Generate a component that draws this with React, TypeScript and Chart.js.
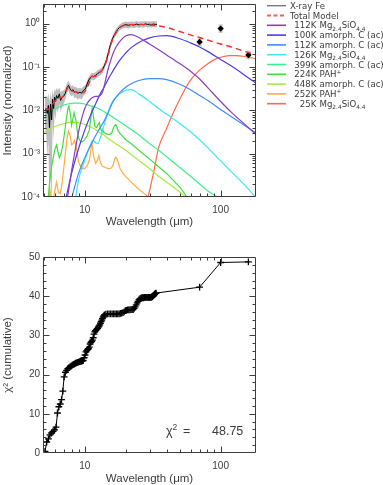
import React, { useEffect, useRef } from 'react';
import { Chart, registerables } from 'chart.js';

Chart.register(...registerables);

const FONT = "'Liberation Sans', Arial, Helvetica, sans-serif";
const LEGEND_FONT = "'DejaVu Sans', 'Liberation Sans', sans-serif";
const TEXT = '#3c3c3c';

// ================= axes / ticks =================
const X_MIN = 4.93;
const X_MAX = 182;
const xMajorTicks = [10, 100];
const xTickLabels = ['10', '100'];
const xMinorTicks = [5, 6, 7, 8, 9, 20, 30, 40, 50, 60, 70, 80, 90];

const TOP_Y_MIN = 1e-4;
const TOP_Y_MAX = 2.85;
const topYMajor = [1e-4, 1e-3, 1e-2, 1e-1, 1];
const topYLabels = ['10⁻⁴', '10⁻³', '10⁻²', '10⁻¹', '10⁰'];
const topYMinor = [
  2e-4, 3e-4, 4e-4, 5e-4, 6e-4, 7e-4, 8e-4, 9e-4,
  2e-3, 3e-3, 4e-3, 5e-3, 6e-3, 7e-3, 8e-3, 9e-3,
  0.02, 0.03, 0.04, 0.05, 0.06, 0.07, 0.08, 0.09,
  0.2, 0.3, 0.4, 0.5, 0.6, 0.7, 0.8, 0.9, 2,
];

const BOT_Y_MIN = 0;
const BOT_Y_MAX = 50;
const botYMajor = [0, 10, 20, 30, 40, 50];
const botYLabels = ['0', '10', '20', '30', '40', '50'];
const botYMinor = [2, 4, 6, 8, 12, 14, 16, 18, 22, 24, 26, 28, 32, 34, 36, 38, 42, 44, 46, 48];

// ================= spectrum (X-ray Fe) =================
const specLam = [5.1, 5.2, 5.3, 5.4, 5.5, 5.6, 5.7, 5.8, 5.9, 6.0,
  6.1, 6.2, 6.35, 6.5, 6.65, 6.8, 7.0, 7.2, 7.4, 7.6,
  7.8, 8.0, 8.2, 8.4, 8.6, 8.9, 9.2, 9.5, 9.8, 10.1,
  10.4, 10.7, 11.0, 11.3, 11.6, 12.0, 12.4, 12.8, 13.2, 13.6,
  14.0, 14.5, 15.0, 15.5, 16.0, 16.5, 17.0, 17.5, 18.0, 19,
  20, 21, 22, 23, 24, 25, 26, 27, 28, 29,
  30, 31, 32, 33, 34];
const specVal = [0.0095, 0.011, 0.0085, 0.013, 0.004, 0.014, 0.006, 0.018, 0.011, 0.02,
  0.016, 0.022, 0.019, 0.024, 0.017, 0.02, 0.021, 0.025, 0.033, 0.038,
  0.031, 0.028, 0.03, 0.026, 0.027, 0.025, 0.026, 0.025, 0.029, 0.031,
  0.04, 0.05, 0.056, 0.062, 0.06, 0.064, 0.07, 0.075, 0.08, 0.09,
  0.11, 0.15, 0.23, 0.34, 0.45, 0.55, 0.65, 0.74, 0.82, 0.9,
  0.95, 0.92, 0.96, 0.93, 0.98, 0.94, 0.97, 0.95, 0.99, 0.96,
  0.97, 0.95, 0.98, 0.96, 0.97];
const specHi = [0.02, 0.022, 0.019, 0.025, 0.016, 0.026, 0.018, 0.03, 0.022, 0.032,
  0.027, 0.033, 0.029, 0.034, 0.026, 0.028, 0.029, 0.033, 0.042, 0.048,
  0.04, 0.036, 0.038, 0.034, 0.035, 0.032, 0.033, 0.032, 0.036, 0.038,
  0.048, 0.06, 0.067, 0.074, 0.072, 0.076, 0.083, 0.089, 0.095, 0.106,
  0.128, 0.175, 0.27, 0.4, 0.52, 0.64, 0.76, 0.86, 0.96, 1.06,
  1.12, 1.09, 1.13, 1.1, 1.15, 1.11, 1.14, 1.12, 1.16, 1.13,
  1.14, 1.12, 1.15, 1.13, 1.14];
const specLo = [0.004, 0.003, 0.0008, 0.002, 0.00005, 0.0005, 0.00005, 0.006, 0.002, 0.009,
  0.006, 0.011, 0.009, 0.014, 0.009, 0.012, 0.014, 0.018, 0.025, 0.029,
  0.023, 0.021, 0.023, 0.019, 0.02, 0.018, 0.019, 0.018, 0.022, 0.024,
  0.032, 0.04, 0.046, 0.051, 0.049, 0.053, 0.058, 0.062, 0.066, 0.074,
  0.092, 0.126, 0.19, 0.28, 0.38, 0.46, 0.55, 0.63, 0.7, 0.77,
  0.81, 0.78, 0.82, 0.79, 0.84, 0.8, 0.83, 0.81, 0.85, 0.82,
  0.83, 0.81, 0.84, 0.82, 0.83];

// ================= total model =================
const modelLam = [5.1, 5.3, 5.5, 5.8, 6.0, 6.2, 6.5, 6.8, 7.0, 7.3,
  7.6, 7.9, 8.3, 8.6, 9.0, 9.5, 10.0, 10.5, 11.0, 11.3,
  11.7, 12.2, 12.7, 13.2, 13.7, 14.2, 14.7, 15.2, 15.7, 16.2,
  16.8, 17.5, 18.5, 20, 22, 25, 28, 31, 34, 40,
  50, 60, 70, 80, 100, 120, 150, 182];
const modelVal = [0.0098, 0.0105, 0.011, 0.014, 0.016, 0.018, 0.019, 0.02, 0.022, 0.028,
  0.035, 0.03, 0.027, 0.027, 0.025, 0.025, 0.027, 0.036, 0.05, 0.061,
  0.06, 0.063, 0.072, 0.08, 0.095, 0.12, 0.16, 0.25, 0.36, 0.46,
  0.58, 0.72, 0.85, 0.92, 0.95, 0.95, 0.95, 0.93, 0.9, 0.82,
  0.66, 0.55, 0.48, 0.42, 0.34, 0.29, 0.23, 0.19];

// ================= photometry =================
const photLam = [70, 100, 160];
const photVal = [0.38, 0.77, 0.19];
const photLo = [0.3, 0.61, 0.15];
const photHi = [0.48, 0.97, 0.24];

// ================= model components =================
// 112K Mg2.4SiO4.4
const c1Lam = [7.4, 8, 8.5, 9, 9.5, 10, 10.5, 11, 11.5, 12, 12.5, 13, 13.5, 14, 14.5, 15, 15.5, 16, 17, 18, 19, 20, 21, 22, 23, 25, 30, 35, 40, 50, 60, 70, 80, 100, 120, 150, 182];
const c1Val = [8e-5, 4e-4, 1.2e-3, 3.2e-3, 6.5e-3, 0.011, 0.015, 0.018, 0.02, 0.021, 0.021, 0.022, 0.026, 0.04, 0.065, 0.1, 0.14, 0.19, 0.29, 0.38, 0.46, 0.52, 0.55, 0.56, 0.54, 0.48, 0.34, 0.25, 0.19, 0.12, 0.08, 0.053, 0.034, 0.016, 0.009, 0.0048, 0.0028];
// 100K amorph. C (ac)
const c2Lam = [7.2, 8, 9, 10, 11, 12, 13, 14, 15, 16, 18, 20, 22, 25, 30, 35, 40, 50, 60, 70, 80, 100, 120, 150, 182];
const c2Val = [8e-5, 3.5e-4, 1.3e-3, 3.5e-3, 7.5e-3, 0.014, 0.024, 0.036, 0.055, 0.078, 0.14, 0.21, 0.28, 0.37, 0.47, 0.52, 0.53, 0.45, 0.36, 0.29, 0.23, 0.15, 0.105, 0.065, 0.042];
// 112K amorph. C (ac)
const c3Lam = [7.9, 9, 10, 11, 12, 13, 14, 15, 16, 18, 20, 22, 25, 30, 35, 40, 50, 60, 70, 80, 100, 120, 150, 182];
const c3Val = [8e-5, 3.5e-4, 8e-4, 1.5e-3, 2.6e-3, 4e-3, 6e-3, 0.0095, 0.015, 0.025, 0.034, 0.041, 0.049, 0.054, 0.054, 0.051, 0.04, 0.03, 0.022, 0.017, 0.0105, 0.0071, 0.0045, 0.003];
// 126K Mg2.4SiO4.4
const c4Lam = [8.5, 9, 10, 11, 11.5, 12, 12.5, 13, 14, 15, 16, 18, 20, 22, 25, 30, 35, 40, 50, 60, 70, 80, 100, 120, 150, 185];
const c4Val = [8e-5, 2.5e-4, 7e-4, 1.6e-3, 2.0e-3, 1.8e-3, 1.7e-3, 2.3e-3, 5e-3, 0.0098, 0.016, 0.024, 0.029, 0.03, 0.024, 0.016, 0.011, 0.0082, 0.005, 0.0032, 0.0021, 0.0014, 6.8e-4, 3.8e-4, 1.9e-4, 9e-5];
// 399K amorph. C (ac)
const c5Lam = [4.93, 5, 5.5, 6, 6.5, 7, 7.5, 8, 8.5, 9, 10, 11, 12, 13, 14, 16, 18, 20, 25, 30, 35, 40, 50, 60, 70, 80, 90, 100];
const c5Val = [0.0062, 0.0065, 0.0085, 0.0105, 0.012, 0.0132, 0.014, 0.0145, 0.0147, 0.0147, 0.014, 0.0128, 0.0118, 0.0105, 0.0092, 0.007, 0.0055, 0.0044, 0.0027, 0.0017, 0.0012, 8.5e-4, 4.8e-4, 3e-4, 2e-4, 1.4e-4, 1.1e-4, 9e-5];
// 224K PAH+
const c6Lam = [5.3, 5.5, 5.7, 5.9, 6.05, 6.2, 6.35, 6.5, 6.7, 6.9, 7.1, 7.3, 7.5, 7.65, 7.85, 8.0, 8.15, 8.35, 8.6, 8.8, 9.0, 9.3, 9.6, 10.0, 10.4, 10.8, 11.0, 11.2, 11.35, 11.6, 11.9, 12.2, 12.6, 12.8, 13.1, 13.4, 13.6, 13.9, 14.3, 14.8, 15.3, 15.8, 16.2, 16.5, 16.9, 17.2, 17.5, 18.0, 19, 20, 22, 25, 30, 35, 40, 50, 58];
const c6Val = [5e-5, 2e-4, 5e-4, 9e-4, 1.3e-3, 1.6e-3, 1.1e-3, 8e-4, 1.0e-3, 1.6e-3, 3e-3, 6e-3, 0.0105, 0.0125, 0.008, 0.0045, 0.006, 0.0088, 0.006, 0.0035, 0.0023, 0.0019, 0.0019, 0.0021, 0.0026, 0.0035, 0.0055, 0.009, 0.0112, 0.007, 0.0042, 0.004, 0.0048, 0.0052, 0.0038, 0.0032, 0.0035, 0.0031, 0.0029, 0.0028, 0.0028, 0.003, 0.0038, 0.0044, 0.0047, 0.0042, 0.0035, 0.003, 0.0025, 0.0021, 0.0017, 0.0012, 7.5e-4, 5e-4, 3.5e-4, 1.7e-4, 9e-5];
// 448K amorph. C (ac)
const c7Lam = [4.93, 5, 5.5, 6, 6.5, 7, 7.5, 8, 8.5, 9, 10, 11, 12, 13, 14, 15, 16, 18, 20, 22, 25, 30, 35, 40, 50, 58];
const c7Val = [0.003, 0.0031, 0.0036, 0.0042, 0.0046, 0.0049, 0.0052, 0.0053, 0.0053, 0.0052, 0.0047, 0.0042, 0.0036, 0.003, 0.0026, 0.0022, 0.0019, 0.0015, 0.0012, 9.5e-4, 7e-4, 4.5e-4, 3e-4, 2.2e-4, 1.3e-4, 9e-5];
// 252K PAH+
const c8Lam = [5.4, 5.55, 5.7, 5.85, 6.0, 6.2, 6.4, 6.6, 6.8, 7.0, 7.2, 7.4, 7.6, 7.8, 8.0, 8.2, 8.4, 8.7, 9.0, 9.5, 10.0, 10.5, 10.9, 11.1, 11.3, 11.6, 12.0, 12.4, 12.7, 13.0, 13.4, 13.8, 14.4, 15.0, 15.6, 16.2, 16.6, 16.9, 17.3, 17.7, 18.2, 19, 20, 22, 25, 29.5];
const c8Val = [5e-5, 1.5e-4, 8e-5, 9e-5, 1.3e-4, 2.2e-4, 1.3e-4, 1.2e-4, 2e-4, 4.5e-4, 1e-3, 2.2e-3, 3.3e-3, 2.6e-3, 1.6e-3, 1.7e-3, 2.0e-3, 1.3e-3, 6.5e-4, 4.5e-4, 4.5e-4, 5.5e-4, 8e-4, 1.3e-3, 1.8e-3, 9e-4, 6e-4, 7e-4, 9e-4, 6.5e-4, 5.2e-4, 5e-4, 4.7e-4, 4.5e-4, 4.6e-4, 5.5e-4, 7.5e-4, 8.3e-4, 7.5e-4, 6e-4, 4.5e-4, 3.6e-4, 3e-4, 2.2e-4, 1.5e-4, 1e-4];
// 25K Mg2.4SiO4.4
const c9Lam = [29.3, 32, 35, 40, 45, 50, 55, 60, 70, 80, 90, 100, 115, 130, 150, 182];
const c9Val = [1e-4, 3.5e-4, 1.4e-3, 3.8e-3, 9e-3, 0.018, 0.032, 0.05, 0.085, 0.118, 0.148, 0.168, 0.183, 0.183, 0.175, 0.155];

const compTemps = ['112K', '100K', '112K', '126K', '399K', '224K', '448K', '252K', '25K'];
const compNames = ['Mg_{2.4}SiO_{4.4}', 'amorph. C (ac)', 'amorph. C (ac)', 'Mg_{2.4}SiO_{4.4}', 'amorph. C (ac)', 'PAH^{+}', 'amorph. C (ac)', 'PAH^{+}', 'Mg_{2.4}SiO_{4.4}'];
const compColors = ['#8a3fc0', '#4a3cf0', '#3f8cff', '#3ce8f4', '#3cf08c', '#3ee03e', '#a6ec3a', '#ffac40', '#ff6a4a'];
const compSmooth = [true, true, true, true, true, false, true, false, true];
const compLams = [c1Lam, c2Lam, c3Lam, c4Lam, c5Lam, c6Lam, c7Lam, c8Lam, c9Lam];
const compVals = [c1Val, c2Val, c3Val, c4Val, c5Val, c6Val, c7Val, c8Val, c9Val];

// ================= cumulative chi^2 =================
const chiLam = [5.10, 5.25, 5.40, 5.55, 5.70, 5.85, 6.00, 6.15, 6.30, 6.45,
  6.60, 6.75, 6.90, 7.05, 7.20, 7.35, 7.50, 7.65, 7.80, 7.95,
  8.10, 8.25, 8.40, 8.55, 8.70, 8.85, 9.00, 9.15, 9.30, 9.45,
  9.60, 9.75, 9.90, 10.05, 10.20, 10.35, 10.50, 10.65, 10.80, 10.95,
  11.10, 11.25, 11.40, 11.55, 11.70, 11.85, 12.00, 12.15, 12.30, 12.45,
  12.60, 12.75, 12.90, 13.05, 13.20, 13.35, 13.50, 13.65, 13.80, 13.95,
  14.3, 14.7, 15.1, 15.5, 15.9, 16.3, 16.7, 17.1, 17.5, 17.9,
  18.3, 18.7, 19.1, 19.5, 19.9, 20.3, 20.7, 21.1, 21.5, 21.9,
  22.3, 22.7, 23.1, 23.5, 23.9, 24.3, 24.7, 25.1, 25.5, 25.9,
  26.3, 26.7, 27.1, 27.5, 27.9, 28.3, 28.7, 29.1, 29.5, 29.9,
  30.3, 30.7, 31.1, 31.5, 31.9, 32.3, 32.7, 33.1, 33.5,
  70, 100, 160];
const chiVal = [0.4, 2.8, 3.6, 4.6, 5.1, 5.5, 5.9, 6.6, 10.2, 11.8,
  12.5, 13.6, 15.8, 19.4, 20.6, 21.1, 21.5, 21.8, 22.0, 22.2,
  22.4, 22.6, 22.7, 22.9, 23.0, 23.1, 23.2, 23.3, 23.4, 23.4,
  23.5, 23.6, 24.3, 25.0, 25.8, 26.1, 26.4, 26.6, 27.0, 27.8,
  28.2, 28.5, 28.8, 29.4, 30.3, 30.9, 31.2, 31.4, 31.6, 31.8,
  32.1, 32.4, 32.7, 33.1, 33.5, 33.9, 34.3, 34.7, 35.0, 35.2,
  35.4, 35.5, 35.5, 35.5, 35.5, 35.5, 35.5, 35.5, 35.5, 35.5,
  35.6, 35.7, 35.8, 36.0, 36.3, 36.4, 36.5, 36.5, 36.5, 36.6,
  36.6, 36.6, 36.9, 37.3, 37.8, 38.3, 38.7, 39.1, 39.4, 39.5,
  39.6, 39.6, 39.6, 39.7, 39.7, 39.7, 39.7, 39.7, 39.7, 39.7,
  39.7, 39.7, 39.8, 39.9, 40.1, 40.3, 40.5, 40.7, 40.8,
  42.3, 48.6, 48.75];

// ================= helpers =================
const pts = (xs: number[], ys: number[]) => xs.map((x, i) => ({ x, y: ys[i] }));

function drawRich(ctx: CanvasRenderingContext2D, text: string, x: number, y: number, size: number, family: string) {
  const parts: { t: string; k: number }[] = [];
  const re = /([_^])\{([^}]*)\}/g;
  let last = 0;
  let m: RegExpExecArray | null;
  while ((m = re.exec(text))) {
    if (m.index > last) parts.push({ t: text.slice(last, m.index), k: 0 });
    parts.push({ t: m[2], k: m[1] === '_' ? -1 : 1 });
    last = re.lastIndex;
  }
  if (last < text.length) parts.push({ t: text.slice(last), k: 0 });
  let cx = x;
  ctx.textAlign = 'left';
  for (const p of parts) {
    const s = p.k ? size * 0.68 : size;
    ctx.font = `${s}px ${family}`;
    const dy = p.k === -1 ? size * 0.3 : p.k === 1 ? -size * 0.42 : 0;
    ctx.fillText(p.t, cx, y + dy);
    cx += ctx.measureText(p.t).width;
  }
  return cx;
}

function makeFramePlugin(xMaj: number[], xMin: number[], yMaj: number[], yMin: number[]) {
  return {
    id: 'frameTicks',
    afterDatasetsDraw(chart: any) {
      const { ctx, chartArea: a } = chart;
      const xs = chart.scales.x;
      const ys = chart.scales.y;
      const L = Math.round(a.left) + 0.5;
      const R = Math.round(a.right) - 0.5;
      const T = Math.round(a.top) + 0.5;
      const B = Math.round(a.bottom) - 0.5;
      ctx.save();
      ctx.strokeStyle = '#3c3c3c';
      ctx.lineWidth = 1;
      ctx.setLineDash([]);
      ctx.beginPath();
      ctx.rect(L, T, R - L, B - T);
      const xt = (vals: number[], len: number) => vals.forEach((v) => {
        const p = Math.round(xs.getPixelForValue(v)) + 0.5;
        if (p <= L || p >= R) return;
        ctx.moveTo(p, B); ctx.lineTo(p, B - len);
        ctx.moveTo(p, T); ctx.lineTo(p, T + len);
      });
      const yt = (vals: number[], len: number) => vals.forEach((v) => {
        const p = Math.round(ys.getPixelForValue(v)) + 0.5;
        if (p <= T || p >= B) return;
        ctx.moveTo(L, p); ctx.lineTo(L + len, p);
        ctx.moveTo(R, p); ctx.lineTo(R - len, p);
      });
      xt(xMaj, 6); xt(xMin, 3); yt(yMaj, 6); yt(yMin, 3);
      ctx.stroke();
      ctx.restore();
    },
  };
}

const legendPlugin = {
  id: 'sideLegend',
  afterDraw(chart: any) {
    const ctx: CanvasRenderingContext2D = chart.ctx;
    const items = chart.data.datasets.filter((d: any) => d.legendText);
    ctx.save();
    items.forEach((d: any, i: number) => {
      const yc = 5.7 + i * 9.8;
      ctx.beginPath();
      ctx.strokeStyle = d.legendColor || d.borderColor;
      ctx.lineWidth = d.legendWidth || 1.6;
      ctx.setLineDash(d.legendDash || []);
      ctx.moveTo(267, yc);
      ctx.lineTo(286, yc);
      ctx.stroke();
      ctx.setLineDash([]);
      ctx.fillStyle = TEXT;
      ctx.textBaseline = 'alphabetic';
      const base = yc + 3.1;
      if (d.legendTemp) {
        ctx.font = `8.6px ${LEGEND_FONT}`;
        ctx.textAlign = 'right';
        ctx.fillText(d.legendTemp, 316.4, base);
        drawRich(ctx, d.legendText, 319.5, base, 8.6, LEGEND_FONT);
      } else {
        drawRich(ctx, d.legendText, 290, base, 8.6, LEGEND_FONT);
      }
    });
    ctx.restore();
  },
};

const photErrPlugin = {
  id: 'photErr',
  beforeDatasetsDraw(chart: any) {
    const { ctx } = chart;
    const xs = chart.scales.x;
    const ys = chart.scales.y;
    ctx.save();
    ctx.strokeStyle = '#cacaca';
    ctx.lineWidth = 4;
    photLam.forEach((l, i) => {
      const px = xs.getPixelForValue(l);
      ctx.beginPath();
      ctx.moveTo(px, ys.getPixelForValue(photLo[i]));
      ctx.lineTo(px, ys.getPixelForValue(photHi[i]));
      ctx.stroke();
    });
    ctx.restore();
  },
};

const chiTextPlugin = {
  id: 'chiText',
  afterDraw(chart: any) {
    const ctx: CanvasRenderingContext2D = chart.ctx;
    ctx.save();
    ctx.fillStyle = TEXT;
    ctx.textBaseline = 'alphabetic';
    drawRich(ctx, 'χ^{2}', 166, 195, 12.5, FONT);
    ctx.font = `12.5px ${FONT}`;
    ctx.fillText('=', 183, 195);
    ctx.fillText(chiVal[chiVal.length - 1].toFixed(2), 212, 195);
    ctx.restore();
  },
};

function xAxis(height: number, titlePadBottom: number) {
  return {
    type: 'logarithmic' as const,
    min: X_MIN,
    max: X_MAX,
    afterBuildTicks: (s: any) => { s.ticks = xMajorTicks.map((v) => ({ value: v })); },
    afterFit: (s: any) => { s.height = height; s.paddingLeft = 0; s.paddingRight = 0; },
    grid: { display: false, drawTicks: false },
    border: { display: false },
    ticks: {
      autoSkip: false, maxRotation: 0, padding: 7, color: TEXT,
      font: { size: 10, family: FONT },
      callback: (_v: any, i: number) => xTickLabels[i],
    },
    title: {
      display: true, text: 'Wavelength (μm)', color: TEXT,
      font: { size: 11.5, family: FONT, lineHeight: 1.1 },
      padding: { top: 0, bottom: titlePadBottom },
    },
  };
}

function yAxis(type: 'logarithmic' | 'linear', min: number, max: number, major: number[], labels: string[], title: string) {
  return {
    type,
    min,
    max,
    afterBuildTicks: (s: any) => { s.ticks = major.map((v) => ({ value: v })); },
    afterFit: (s: any) => { s.width = 43; s.paddingTop = 0; s.paddingBottom = 0; },
    grid: { display: false, drawTicks: false },
    border: { display: false },
    ticks: {
      autoSkip: false, padding: 3, color: TEXT,
      font: { size: 10, family: FONT },
      callback: (_v: any, i: number) => labels[i],
    },
    title: {
      display: true, text: title, color: TEXT,
      font: { size: 11.5, family: FONT, lineHeight: 1.1 },
      padding: { top: 2, bottom: 0 },
    },
  };
}

function TopChart() {
  const ref = useRef<HTMLCanvasElement>(null);
  useEffect(() => {
    const components = compLams.map((lam, k) => ({
      data: pts(lam, compVals[k]),
      borderColor: compColors[k],
      borderWidth: 1.2,
      pointRadius: 0,
      fill: false,
      tension: 0,
      cubicInterpolationMode: compSmooth[k] ? 'monotone' : 'default',
      order: 2,
      legendTemp: compTemps[k],
      legendText: compNames[k],
    }));
    const datasets: any[] = [
      {
        data: pts(specLam, specVal), borderColor: '#000', borderWidth: 1, pointRadius: 0,
        fill: false, order: 1, legendText: 'X-ray Fe', legendColor: '#7a7a7a', legendWidth: 1.4,
      },
      {
        data: pts(modelLam, modelVal), borderColor: '#ff2a2a', borderWidth: 1.4, borderDash: [6, 4],
        pointRadius: 0, fill: false, order: 0, cubicInterpolationMode: 'monotone',
        legendText: 'Total Model', legendColor: '#ff5a5a', legendDash: [4, 2.5], legendWidth: 2,
      },
      ...components,
      {
        data: pts(photLam, photVal), showLine: false, pointStyle: 'rectRot', pointRadius: 3.2,
        backgroundColor: '#000', borderColor: '#000', borderWidth: 0, order: 0,
      },
      {
        data: pts(specLam, specHi), borderColor: 'rgba(0,0,0,0)', borderWidth: 0, pointRadius: 0,
        fill: '+1', backgroundColor: '#bdbdbd', order: 5,
      },
      {
        data: pts(specLam, specLo), borderColor: 'rgba(0,0,0,0)', borderWidth: 0, pointRadius: 0,
        fill: false, order: 6,
      },
    ];
    const chart = new Chart(ref.current as HTMLCanvasElement, {
      type: 'line',
      data: { datasets },
      options: {
        animation: false,
        responsive: false,
        devicePixelRatio: 1,
        events: [],
        layout: { padding: { left: 0, top: 1, right: 127, bottom: 0 } },
        plugins: { legend: { display: false }, tooltip: { enabled: false } },
        scales: {
          x: xAxis(43, 12),
          y: yAxis('logarithmic', TOP_Y_MIN, TOP_Y_MAX, topYMajor, topYLabels, 'Intensity (normalized)'),
        },
      } as any,
      plugins: [photErrPlugin, makeFramePlugin(xMajorTicks, xMinorTicks, topYMajor, topYMinor), legendPlugin],
    });
    return () => chart.destroy();
  }, []);
  return <canvas ref={ref} width={383} height={240} style={{ display: 'block', width: 383, height: 240 }} />;
}

function BottomChart() {
  const ref = useRef<HTMLCanvasElement>(null);
  useEffect(() => {
    const chart = new Chart(ref.current as HTMLCanvasElement, {
      type: 'line',
      data: {
        datasets: [
          {
            data: pts(chiLam, chiVal), borderColor: '#000', borderWidth: 1,
            pointStyle: 'cross', pointRadius: 3.4, pointBorderColor: '#000',
            pointBorderWidth: 1.3, pointBackgroundColor: '#000', fill: false,
          },
        ],
      },
      options: {
        animation: false,
        responsive: false,
        devicePixelRatio: 1,
        events: [],
        layout: { padding: { left: 0, top: 17, right: 127, bottom: 0 } },
        plugins: { legend: { display: false }, tooltip: { enabled: false } },
        scales: {
          x: xAxis(32, 0),
          y: yAxis('linear', BOT_Y_MIN, BOT_Y_MAX, botYMajor, botYLabels, 'χ² (cumulative)'),
        },
      } as any,
      plugins: [makeFramePlugin(xMajorTicks, xMinorTicks, botYMajor, botYMinor), chiTextPlugin],
    });
    return () => chart.destroy();
  }, []);
  return <canvas ref={ref} width={383} height={245} style={{ display: 'block', width: 383, height: 245 }} />;
}

export default function App() {
  return (
    <div style={{ position: 'absolute', left: 0, top: 0, width: 383, height: 485, background: '#fff', overflow: 'hidden' }}>
      <div style={{ position: 'absolute', left: 0, top: 0 }}><TopChart /></div>
      <div style={{ position: 'absolute', left: 0, top: 240 }}><BottomChart /></div>
    </div>
  );
}
